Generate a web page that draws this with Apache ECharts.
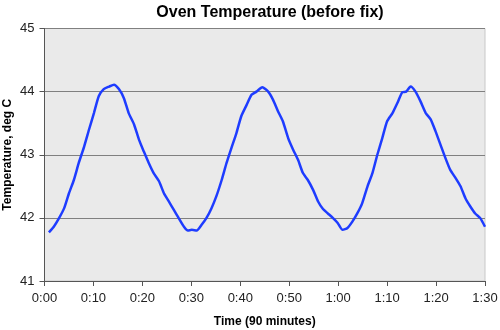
<!DOCTYPE html>
<html><head><meta charset="utf-8">
<script src="https://cdn.jsdelivr.net/npm/echarts@6/dist/echarts.min.js"></script>
<style>html,body{margin:0;padding:0;background:#fff}#c{width:500px;height:330px}</style>
</head><body><div id="c"></div>
<script>
var title = "Oven Temperature (before fix)";
var xName = "Time (90 minutes)";
var yName = "Temperature, deg C";
var minutes = [0.9,1.9,3.0,4.0,5.0,6.0,7.0,8.1,9.1,10.1,11.1,12.1,13.2,14.2,15.2,16.2,17.2,18.3,19.3,20.3,21.3,22.3,23.4,24.4,25.4,26.4,27.4,28.5,29.3,30.1,31.1,32.1,33.1,34.1,35.1,36.2,37.2,38.2,39.2,40.2,41.3,42.3,43.3,44.5,45.7,46.7,47.7,48.7,49.8,50.8,51.8,52.8,53.8,54.9,55.9,56.9,57.9,58.9,59.9,60.9,61.9,62.9,63.9,64.9,66.0,67.0,68.0,69.0,70.0,71.1,72.1,73.1,73.9,74.8,75.8,76.8,77.9,78.9,79.9,80.9,81.9,82.9,84.0,85.0,86.0,87.0,88.0,89.0,90.0];
var temps = [41.77,41.86,42.00,42.15,42.39,42.60,42.87,43.13,43.40,43.66,43.93,44.04,44.08,44.11,44.04,43.90,43.66,43.48,43.24,43.05,42.87,42.71,42.58,42.39,42.26,42.13,42.00,41.86,41.80,41.81,41.80,41.89,42.00,42.15,42.34,42.60,42.87,43.11,43.34,43.61,43.79,43.95,44.00,44.07,44.00,43.87,43.69,43.53,43.26,43.08,42.92,42.71,42.60,42.44,42.26,42.14,42.07,42.00,41.92,41.81,41.84,41.94,42.07,42.23,42.50,42.71,43.00,43.26,43.53,43.66,43.82,43.99,44.00,44.08,44.00,43.85,43.66,43.56,43.37,43.16,42.95,42.76,42.63,42.50,42.31,42.18,42.07,42.00,41.86];
var xTicks = ["0:00","0:10","0:20","0:30","0:40","0:50","1:00","1:10","1:20","1:30"];
var yMin = 41, yMax = 45;

var data = minutes.map(function(m,i){return [m, temps[i]];});
var chart = echarts.init(document.getElementById('c'), null, {renderer:'canvas'});
var font = 'Liberation Sans, Arial, sans-serif';
chart.setOption({
  animation:false,
  title:{text:title,left:265,top:0,textAlign:'center',textStyle:{fontFamily:font,fontSize:16,fontWeight:'bold',color:'#000'}},
  grid:{left:44.5,right:15,top:28.5,bottom:49,containLabel:false,outerBoundsMode:'none',show:true,backgroundColor:'#eaeaea',borderColor:'#c8c8c8',borderWidth:1},
  xAxis:{type:'value',min:0,max:90,interval:10,
    name:xName,nameLocation:'middle',nameGap:35,
    nameTextStyle:{fontFamily:font,fontSize:12,fontWeight:'bold',color:'#000'},
    axisLine:{show:true,lineStyle:{color:'#555',width:1}},
    axisTick:{show:true,length:5,lineStyle:{color:'#555'}},
    axisLabel:{fontFamily:font,fontSize:13,color:'#222',margin:11,formatter:function(v){return xTicks[Math.round(v/10)];}},
    splitLine:{show:false}},
  yAxis:{type:'value',min:yMin,max:yMax,interval:1,
    name:yName,nameLocation:'middle',nameGap:31,nameMoveOverlap:false,
    nameTextStyle:{fontFamily:font,fontSize:12,fontWeight:'bold',color:'#000'},
    axisLine:{show:true,lineStyle:{color:'#555',width:1}},
    axisTick:{show:true,length:5,lineStyle:{color:'#555'}},
    axisLabel:{fontFamily:font,fontSize:13,color:'#222',margin:10},
    splitLine:{show:true,lineStyle:{color:'#808080',width:1}}},
  series:[{type:'line',data:data,showSymbol:false,smooth:0.2,lineStyle:{color:'#1e3cff',width:2.5}}]
});
</script></body></html>
